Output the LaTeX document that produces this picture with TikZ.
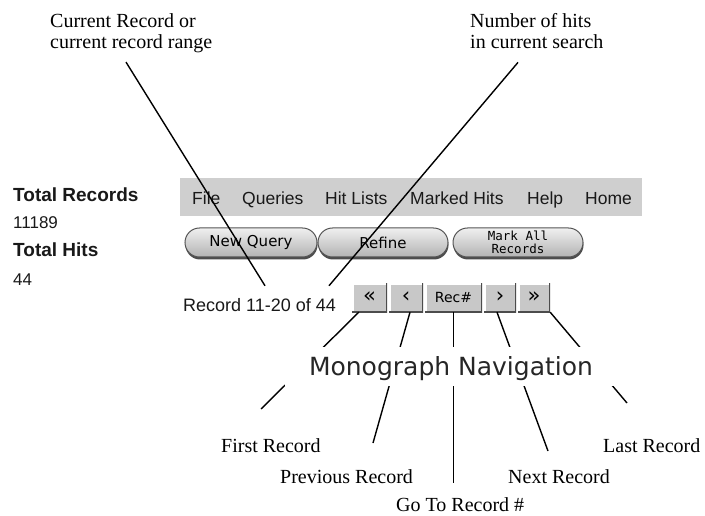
\documentclass[tikz,border=0pt]{standalone}
\usepackage{fontspec}
\setmainfont{Liberation Serif}
\newfontfamily\uisans{Liberation Sans}
\newfontfamily\dvsans{DejaVu Sans}
\newfontfamily\dvmono{DejaVu Sans Mono}
\usetikzlibrary{calc,shadows}
\definecolor{menugray}{HTML}{CFCFCF}
\definecolor{btnface}{HTML}{C8C8C8}
\definecolor{btnedge}{HTML}{555555}
\begin{document}
\begin{tikzpicture}[x=1pt,y=-1pt,
  note/.style={inner sep=0pt, font=\fontsize{20}{21}\selectfont},
  ui/.style={inner sep=0pt, font=\uisans\fontsize{17.5}{20}\selectfont, text=black!90},
  uibold/.style={inner sep=0pt, font=\uisans\bfseries\fontsize{19}{22}\selectfont, text=black!90},
  pill/.style={draw=btnedge, line width=1pt, rounded corners=14.5pt,
    top color=black!6, bottom color=black!30, minimum height=29pt, inner sep=0pt,
    font=\dvsans\fontsize{15}{15}\selectfont,
    drop shadow={shadow xshift=0.5pt, shadow yshift=-2.5pt, fill=black!70, opacity=1}},
  navbtn/.style={fill=btnface, minimum height=29pt, inner sep=0pt,
    font=\dvsans\fontsize{14}{14}\selectfont,
    path picture={
      \draw[white, line width=3pt] (path picture bounding box.south west) --
        (path picture bounding box.north west) -- (path picture bounding box.north east);
      \draw[black!70, line width=3pt] (path picture bounding box.north east) --
        (path picture bounding box.south east) -- (path picture bounding box.south west);}},
  chevron/.style={font=\dvsans\fontsize{21}{21}\selectfont},
  link/.style={draw=black, line width=1.4pt}]

\fill[white] (0,0) rectangle (705,516);
\useasboundingbox (0,0) rectangle (705,516);

% callout texts at the top
\node[note, anchor=base west] (cur1) at (50,28) {Current Record or};
\node[note, anchor=base west] (cur2) at (50,49) {current record range};
\node[note, anchor=base west] (hit1) at (470,28) {Number of hits};
\node[note, anchor=base west] (hit2) at (470,49) {in current search};

% totals panel
\node[uibold, anchor=base west] (totrec) at (13,202) {Total Records};
\node[ui, anchor=base west, font=\uisans\fontsize{17}{20}\selectfont] (totrecn) at (13,229) {11189};
\node[uibold, anchor=base west] (tothit) at (13,257) {Total Hits};
\node[ui, anchor=base west, font=\uisans\fontsize{17}{20}\selectfont] (tothitn) at (13,285) {44};

% menu bar
\node[fill=menugray, minimum width=462pt, minimum height=38pt, inner sep=0pt, anchor=north west] (menu) at (180,178) {};
\node[ui, anchor=base west] (mfile) at (192,205) {File};
\node[ui, anchor=base west] (mqueries) at (242,205) {Queries};
\node[ui, anchor=base west] (mhits) at (325,205) {Hit Lists};
\node[ui, anchor=base west] (mmarked) at (410,205) {Marked Hits};
\node[ui, anchor=base west] (mhelp) at (527,205) {Help};
\node[ui, anchor=base west] (mhome) at (585,205) {Home};

% rounded command buttons
\node[pill, minimum width=132pt] (newq) at (251,242.5) {New Query};
\node[pill, minimum width=130pt] (refine) at (383,242.5) {Refine};
\node[pill, minimum width=130pt, align=center, font=\dvmono\fontsize{12.5}{12.5}\selectfont] (markall) at (518,242.5) {Mark All\\Records};

% record range and navigation buttons
\node[ui, anchor=base west, font=\uisans\fontsize{18}{20}\selectfont] (rec) at (183,311) {Record 11-20 of 44};
\node[navbtn, chevron, minimum width=35pt] (first) at (369.5,297.5) {«};
\node[navbtn, chevron, minimum width=34pt] (prev) at (406,297.5) {‹};
\node[navbtn, minimum width=57pt] (recno) at (453.5,297.5) {Rec\#};
\node[navbtn, chevron, minimum width=32pt] (next) at (500,297.5) {›};
\node[navbtn, chevron, minimum width=32pt] (last) at (534,297.5) {»};

% labels below
\node[note, anchor=base west] (lfirst) at (221,452) {First Record};
\node[note, anchor=base west] (lprev) at (280,483) {Previous Record};
\node[note, anchor=base west] (lgoto) at (396,511) {Go To Record \#};
\node[note, anchor=base west] (lnext) at (508,483) {Next Record};
\node[note, anchor=base west] (llast) at (603,452) {Last Record};

\coordinate (e1) at (261,409);
\coordinate (e2) at (373,443);
\coordinate (e3) at (453.5,483);
\coordinate (e4) at (548,451);
\coordinate (e5) at (627,403);

% connectors
\draw[link] ($(cur2.south west)+(76,8.6)$) -- ($(rec.north west)+(82,-12)$);
\draw[link] ($(hit2.south west)+(48,13)$) -- ($(rec.north west)+(146,-12)$);
\draw[link] ($(first.south west)+(7,0)$) -- (e1);
\draw[link] ($(prev.south)+(4,0)$) -- (e2);
\draw[link] (recno.south) -- (e3);
\draw[link] ($(next.south)+(-3,0)$) -- (e4);
\draw[link] (last.south east) -- (e5);

% title over the connectors
\node[fill=white, inner xsep=24pt, inner ysep=9pt, text height=19pt, text depth=2pt,
  font=\dvsans\fontsize{25}{25}\selectfont, text=black!85, anchor=base] (title) at (451,375) {Monograph Navigation};
\end{tikzpicture}
\end{document}
